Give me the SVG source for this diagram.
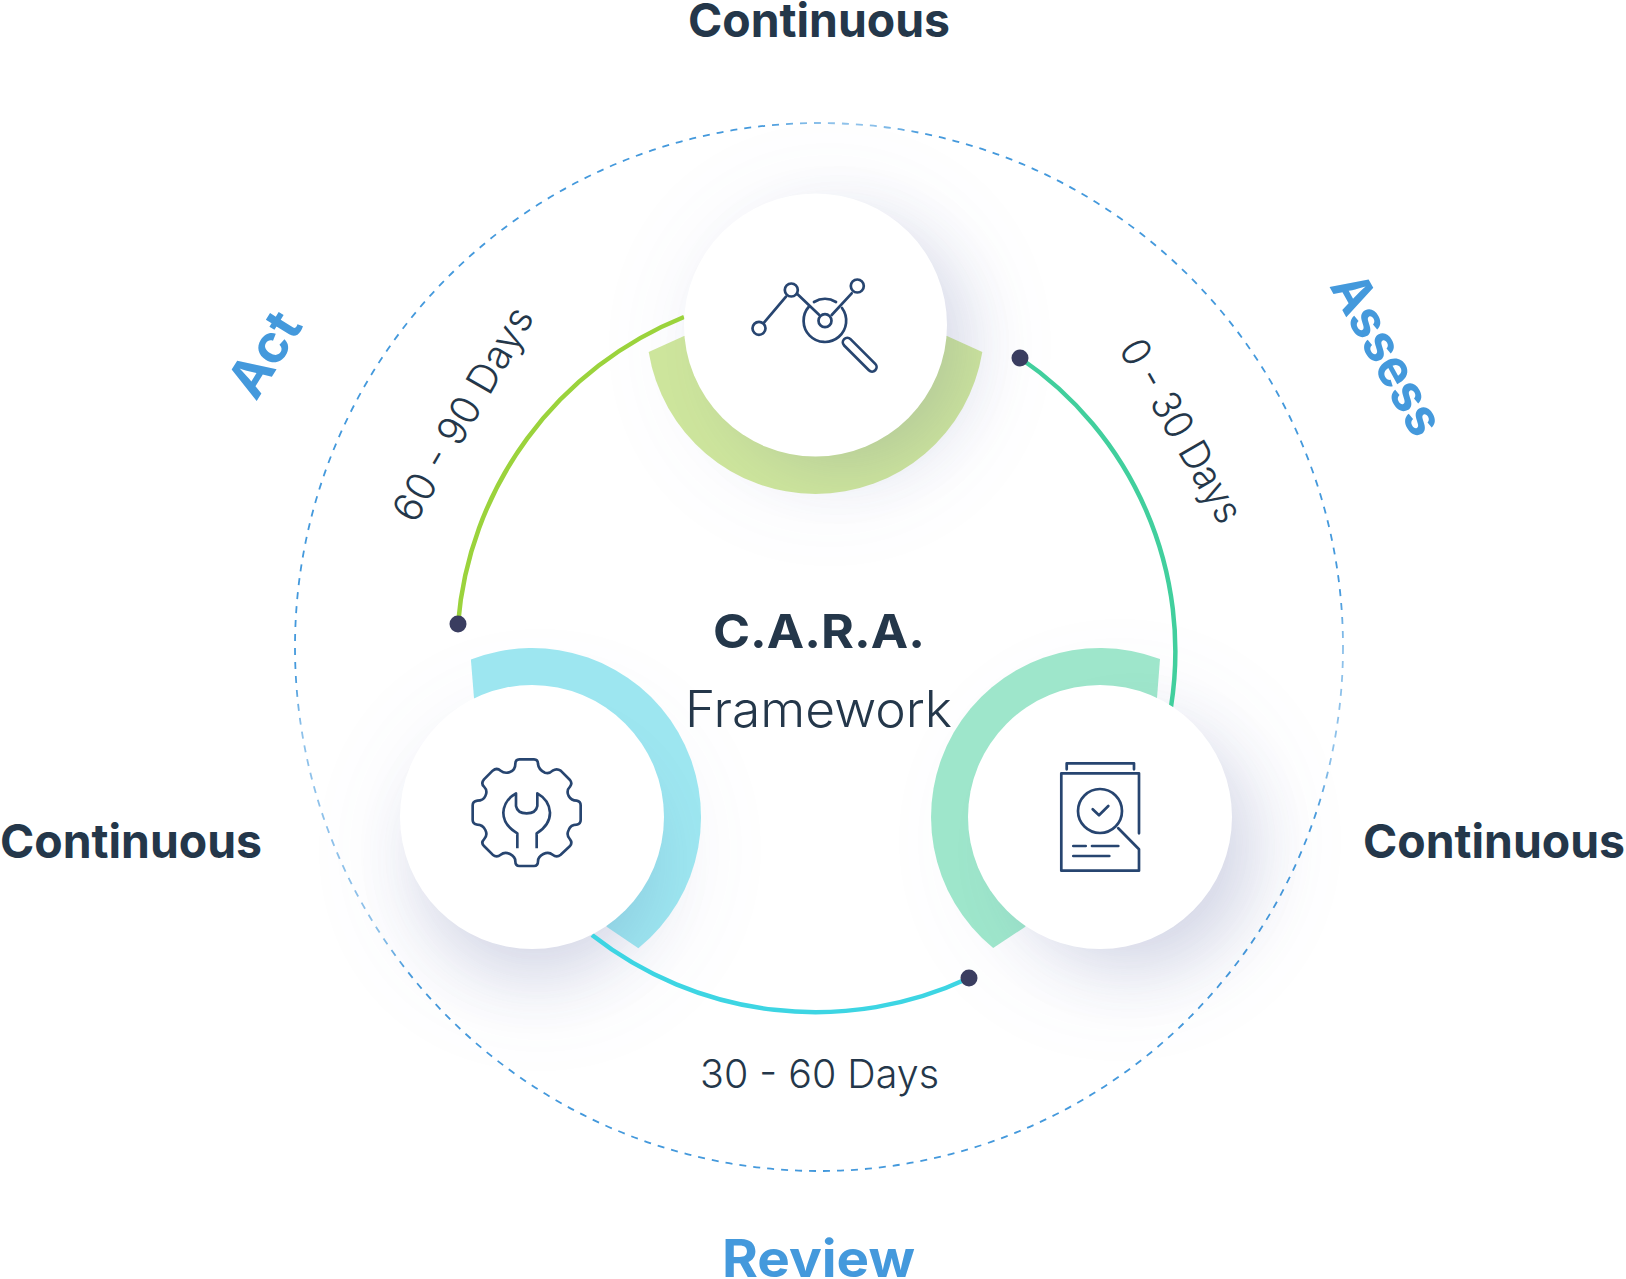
<svg xmlns="http://www.w3.org/2000/svg" width="1626" height="1279" viewBox="0 0 1626 1279">
<style>
text{font-family:Inter,"Noto Sans","Liberation Sans",sans-serif;fill:#24374a}
.b{font-weight:700;font-size:47px}
.l{font-weight:700;font-size:52px;fill:#4499dc}
.d{font-weight:350;font-size:40px}
.f{font-weight:350;font-size:50px}
.ic{fill:none;stroke:#274570;stroke-width:2.7;stroke-linecap:round;stroke-linejoin:round}
.arc{fill:none;stroke-width:4.5}
.dot{fill:#3a3d60}
.disc{fill:#fff}
.sh1{fill:#3c4a8c;opacity:.17;filter:url(#blur1)}
.sh2{fill:#5a68b0;opacity:.09;filter:url(#blur2)}
</style>
<defs>
<filter id="blur1" x="-60%" y="-60%" width="220%" height="220%"><feGaussianBlur stdDeviation="32"/></filter>
<filter id="blur2" x="-80%" y="-80%" width="260%" height="260%"><feGaussianBlur stdDeviation="58"/></filter>
<filter id="blur3" x="-30%" y="-30%" width="160%" height="160%"><feGaussianBlur stdDeviation="18"/></filter>
<mask id="fade" maskUnits="userSpaceOnUse" x="0" y="0" width="1626" height="1279">
<rect width="1626" height="1279" fill="#fff"/>
<g fill="none" stroke="#666" stroke-width="34" filter="url(#blur3)">
<path d="M790 123A524 524 0 0 1 900 129"/>
<path d="M298 700A524 524 0 0 0 395 955"/>
<path d="M1343 620A524 524 0 0 1 1325 790"/>
</g>
</mask>
</defs>
<rect width="1626" height="1279" fill="#fff"/>
<circle id="orbit" cx="819" cy="647" r="524" fill="none" stroke="#4499dc" stroke-width="1.8" stroke-dasharray="7 7" mask="url(#fade)"/>

<g id="shadows">
<circle class="sh2" cx="830" cy="345" r="135"/>
<circle class="sh2" cx="540" cy="850" r="135"/>
<circle class="sh2" cx="1120" cy="840" r="135"/>
</g>
<path fill="#cde59c" d="M648.68 352.04A169 169 0 0 0 982.32 352.04L947 336L815.5 325L684 336Z"/>
<path fill="#9de6f0" d="M470.89 659.44A169 169 0 0 1 638.36 948.34L607 927L532 817L474 698Z"/>
<path fill="#9ee6cb" d="M1160.01 659.02A169 169 0 0 0 993.2 947.96L1025 927L1100 817L1157 698Z"/>
<g id="soft">
<circle class="sh1" cx="845" cy="345" r="122"/>
<circle class="sh1" cx="535" cy="862" r="115"/>
<circle class="sh1" cx="1135" cy="850" r="120"/>
</g>

<g id="connectors">
<path class="arc" stroke="#41cf9d" d="M1020 358A355 355 0 0 1 1171 707"/>
<path class="arc" stroke="#3dd5e3" d="M592 935A362 362 0 0 0 969 978"/>
<path class="arc" stroke="#9bd33c" d="M458 624A362 362 0 0 1 684 317"/>
<circle class="dot" cx="1020" cy="358" r="8.5"/>
<circle class="dot" cx="969" cy="978" r="8.5"/>
<circle class="dot" cx="458" cy="624" r="8.5"/>
</g>

<g id="node-analyze">
<circle class="disc" cx="815.5" cy="325" r="131.5"/>
<g class="ic">
<circle cx="759" cy="328.3" r="6.5"/><circle cx="791.3" cy="290" r="6.5"/><circle cx="857.3" cy="286" r="6.5"/><circle cx="825" cy="320.7" r="6.5"/>
<path d="M764 322.7L786 296.7M797.3 294L819.3 315M831.7 315L851.7 293.3"/>
<path d="M814 302A21.3 21.3 0 0 1 836 302M809 306.5A21.3 21.3 0 1 0 842 308"/>
<rect x="837.7" y="350.2" width="44" height="9" rx="4.5" transform="rotate(45 859.7 354.7)"/>
</g>
</g>

<g id="node-act">
<circle class="disc" cx="532" cy="817" r="132"/>
<g transform="translate(430 720) scale(.33333)"><path fill="none" stroke="#274570" stroke-width="8" stroke-linecap="butt" stroke-linejoin="round" d="M268 118H312Q324 118 324 132Q326 150 345 158Q358 162 368 152Q380 144 392 152L420 180Q428 190 420 200Q408 212 416 228Q424 242 440 242Q452 244 452 256V300Q452 312 440 314Q422 314 416 330Q408 346 420 358Q428 368 420 378L392 404Q380 414 368 404Q356 394 340 402Q324 410 324 424Q324 438 312 438H268Q256 438 256 424Q256 410 240 402Q224 394 212 404Q200 414 188 404L162 378Q152 368 162 358Q174 346 166 330Q158 314 142 314Q128 312 128 300V256Q128 244 142 242Q160 242 166 228Q174 212 162 200Q152 190 162 178L188 152Q200 142 212 152Q224 162 240 156Q256 150 256 132Q256 118 268 118ZM262 385V340Q220 315 220 278Q222 240 258 220V258Q262 280 290 280Q318 280 322 258V220Q358 240 360 278Q360 315 320 340V385"/></g>
</g>

<g id="node-review">
<circle class="disc" cx="1100" cy="817" r="132"/>
<g class="ic">
<path d="M1066.7 769.3V763.3H1134V769.3M1139 833.3V773.3H1061.3V870.7H1139V849.3L1118.3 828.3"/>
<circle cx="1100" cy="811" r="22"/>
<path d="M1092.7 809.3L1099 815.3L1108.3 806M1073.3 846H1085.7M1092 846H1118.3M1073.3 856H1109.3"/>
</g>
</g>

<g id="labels">
<text class="b" x="688" y="37" textLength="262" lengthAdjust="spacingAndGlyphs">Continuous</text>
<text class="b" x="0" y="858" textLength="262" lengthAdjust="spacingAndGlyphs">Continuous</text>
<text class="b" x="1363" y="858" textLength="262" lengthAdjust="spacingAndGlyphs">Continuous</text>
<text class="l" x="722" y="1277" textLength="193" lengthAdjust="spacingAndGlyphs">Review</text>
<text class="l" transform="translate(256 402) rotate(-58)" textLength="90" lengthAdjust="spacingAndGlyphs">Act</text>
<text class="l" transform="translate(1329 286) rotate(61)" textLength="176" lengthAdjust="spacingAndGlyphs">Assess</text>
<text class="b" x="713" y="648" textLength="212" lengthAdjust="spacingAndGlyphs">C.A.R.A.</text>
<text class="f" x="685" y="727" textLength="267" lengthAdjust="spacingAndGlyphs">Framework</text>
<text class="d" x="700" y="1088" textLength="239" lengthAdjust="spacingAndGlyphs">30 - 60 Days</text>
<text class="d" transform="translate(415 525) rotate(-60)" textLength="240" lengthAdjust="spacingAndGlyphs">60 - 90 Days</text>
<text class="d" transform="translate(1118 349) rotate(60)" textLength="205" lengthAdjust="spacingAndGlyphs">0 - 30 Days</text>
</g>
</svg>
